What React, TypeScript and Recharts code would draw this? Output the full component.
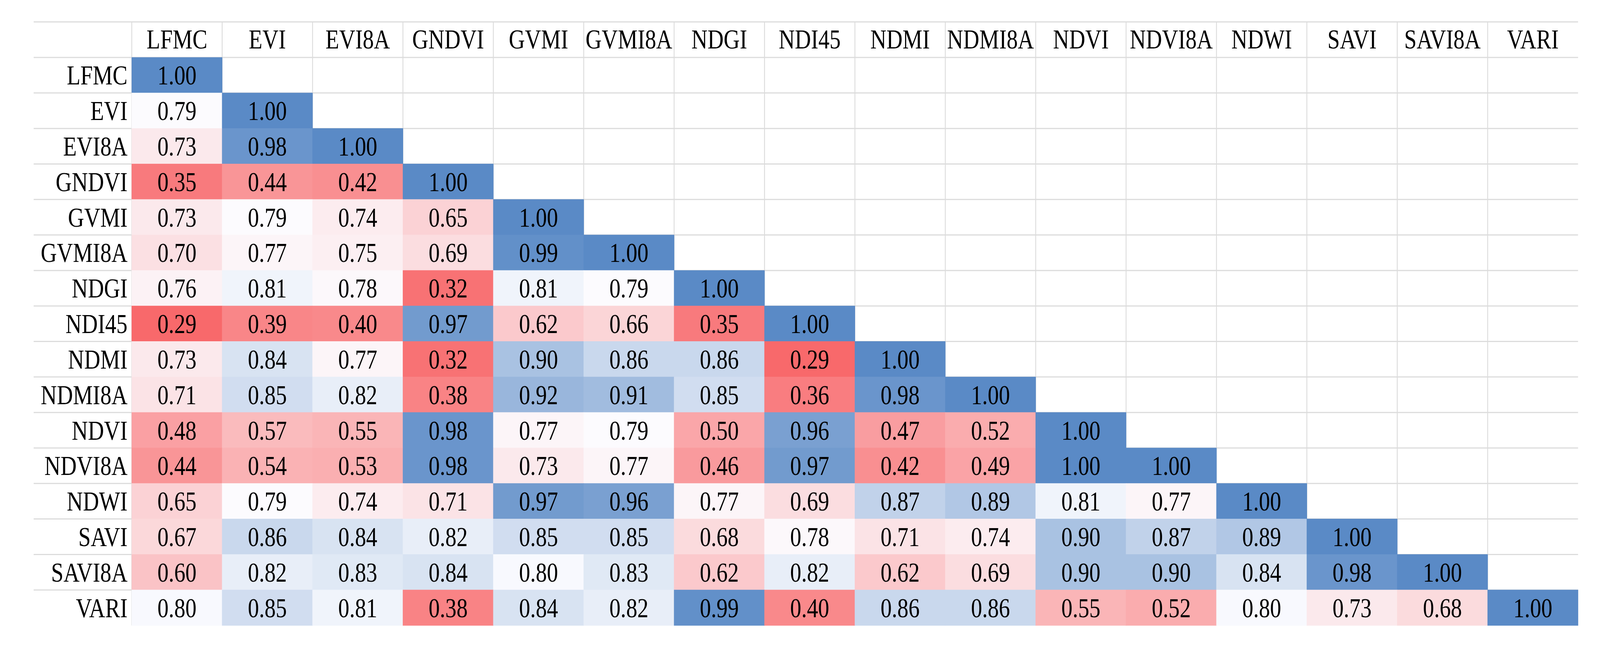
import React from 'react';
import { ScatterChart, Scatter, XAxis, YAxis, CartesianGrid } from 'recharts';

// ---------- data ----------
const COLUMNS = ['LFMC', 'EVI', 'EVI8A', 'GNDVI', 'GVMI', 'GVMI8A', 'NDGI', 'NDI45', 'NDMI', 'NDMI8A', 'NDVI', 'NDVI8A', 'NDWI', 'SAVI', 'SAVI8A', 'VARI'];

const ROW_LFMC = [1.0];
const ROW_EVI = [0.79, 1.0];
const ROW_EVI8A = [0.73, 0.98, 1.0];
const ROW_GNDVI = [0.35, 0.44, 0.42, 1.0];
const ROW_GVMI = [0.73, 0.79, 0.74, 0.65, 1.0];
const ROW_GVMI8A = [0.7, 0.77, 0.75, 0.69, 0.99, 1.0];
const ROW_NDGI = [0.76, 0.81, 0.78, 0.32, 0.81, 0.79, 1.0];
const ROW_NDI45 = [0.29, 0.39, 0.4, 0.97, 0.62, 0.66, 0.35, 1.0];
const ROW_NDMI = [0.73, 0.84, 0.77, 0.32, 0.9, 0.86, 0.86, 0.29, 1.0];
const ROW_NDMI8A = [0.71, 0.85, 0.82, 0.38, 0.92, 0.91, 0.85, 0.36, 0.98, 1.0];
const ROW_NDVI = [0.48, 0.57, 0.55, 0.98, 0.77, 0.79, 0.5, 0.96, 0.47, 0.52, 1.0];
const ROW_NDVI8A = [0.44, 0.54, 0.53, 0.98, 0.73, 0.77, 0.46, 0.97, 0.42, 0.49, 1.0, 1.0];
const ROW_NDWI = [0.65, 0.79, 0.74, 0.71, 0.97, 0.96, 0.77, 0.69, 0.87, 0.89, 0.81, 0.77, 1.0];
const ROW_SAVI = [0.67, 0.86, 0.84, 0.82, 0.85, 0.85, 0.68, 0.78, 0.71, 0.74, 0.9, 0.87, 0.89, 1.0];
const ROW_SAVI8A = [0.6, 0.82, 0.83, 0.84, 0.8, 0.83, 0.62, 0.82, 0.62, 0.69, 0.9, 0.9, 0.84, 0.98, 1.0];
const ROW_VARI = [0.8, 0.85, 0.81, 0.38, 0.84, 0.82, 0.99, 0.4, 0.86, 0.86, 0.55, 0.52, 0.8, 0.73, 0.68, 1.0];

const ROWS = [ROW_LFMC, ROW_EVI, ROW_EVI8A, ROW_GNDVI, ROW_GVMI, ROW_GVMI8A, ROW_NDGI, ROW_NDI45, ROW_NDMI, ROW_NDMI8A, ROW_NDVI, ROW_NDVI8A, ROW_NDWI, ROW_SAVI, ROW_SAVI8A, ROW_VARI];

// ---------- layout (reference pixels, page origin) ----------
const REF_W = 4517;
const REF_H = 1650;
const TABLE_LEFT = 95;
const HEADER_TOP = 56;
const HEADER_H = 91;
const LABEL_W = 277;
const TABLE_RIGHT = 4455;
const TABLE_BOTTOM = 1600;
const MARGIN = { top: HEADER_TOP, left: TABLE_LEFT, right: REF_W - TABLE_RIGHT, bottom: REF_H - TABLE_BOTTOM };
const PLOT_LEFT = TABLE_LEFT + LABEL_W;
const PLOT_TOP = HEADER_TOP + HEADER_H;
const PLOT_W = TABLE_RIGHT - PLOT_LEFT;
const PLOT_H = TABLE_BOTTOM - PLOT_TOP;
const N = COLUMNS.length;
const CELL_W = PLOT_W / N;
const CELL_H = PLOT_H / N;

const FONT = "'Liberation Serif', 'Times New Roman', serif";
const FONT_SIZE = 63;
const SCALE_Y = 1.1;
const GRID_COLOR = '#dcdcdc';

// ---------- colour scale (Excel 3-colour: red / white / blue, midpoint = 50th percentile) ----------
const points = ROWS.flatMap((row, r) => row.map((v, c) => ({ x: c + 0.5, y: r + 0.5, v })));
const allVals = points.map((p) => p.v).sort((a, b) => a - b);
const vMin = allVals[0];
const vMax = allVals[allVals.length - 1];
const rank = 0.5 * (allVals.length - 1);
const lo = Math.floor(rank);
const vMid = allVals[lo] + (allVals[Math.min(lo + 1, allVals.length - 1)] - allVals[lo]) * (rank - lo);

const RED = [248, 105, 107];
const WHITE = [252, 252, 255];
const BLUE = [90, 138, 198];

function mix(a: number[], b: number[], t: number) {
  const c = a.map((av, i) => Math.round(av + (b[i] - av) * t));
  return `rgb(${c[0]},${c[1]},${c[2]})`;
}
function colorFor(v: number) {
  if (v <= vMid) {
    const t = vMid === vMin ? 1 : (v - vMin) / (vMid - vMin);
    return mix(RED, WHITE, Math.max(0, Math.min(1, t)));
  }
  const t = (v - vMid) / (vMax - vMid);
  return mix(WHITE, BLUE, Math.max(0, Math.min(1, t)));
}

function ScaledText({ x, y, anchor, children }: { x: number; y: number; anchor: string; children: React.ReactNode }) {
  return (
    <text
      transform={`translate(${x},${y}) scale(1,${SCALE_Y})`}
      textAnchor={anchor as any}
      fontFamily={FONT}
      fontSize={FONT_SIZE}
      fill="#000"
    >
      {children}
    </text>
  );
}

const CellShape = (props: any) => {
  const { cx, cy, payload } = props;
  if (cx == null || cy == null) return null;
  return (
    <g>
      <rect x={cx - CELL_W / 2 - 0.5} y={cy - CELL_H / 2 - 0.5} width={CELL_W + 1} height={CELL_H + 1} fill={colorFor(payload.v)} />
      <ScaledText x={cx} y={cy + 24} anchor="middle">
        {payload.v.toFixed(2)}
      </ScaledText>
    </g>
  );
};

const XTick = (props: any) => {
  const { x, payload } = props;
  const name = COLUMNS[Math.round(payload.value - 0.5)];
  return (
    <ScaledText x={x} y={HEADER_TOP + HEADER_H / 2 + 22.5} anchor="middle">
      {name}
    </ScaledText>
  );
};

const YTick = (props: any) => {
  const { y, payload } = props;
  const name = COLUMNS[Math.round(payload.value - 0.5)];
  return (
    <ScaledText x={PLOT_LEFT - 12} y={y + 24} anchor="end">
      {name}
    </ScaledText>
  );
};

const TICKS = COLUMNS.map((_, i) => i + 0.5);
const H_POINTS = [HEADER_TOP, ...COLUMNS.map((_, i) => PLOT_TOP + i * CELL_H)];
const V_POINTS = COLUMNS.map((_, i) => PLOT_LEFT + i * CELL_W);

export default function App() {
  const vw = typeof window !== 'undefined' ? window.innerWidth : REF_W;
  const vh = typeof window !== 'undefined' ? window.innerHeight : REF_H;
  const sx = vw / REF_W || 1;
  const sy = vh / REF_H || 1;
  return (
    <div style={{ position: 'fixed', left: 0, top: 0, width: '100vw', height: '100vh', overflow: 'hidden', background: '#fff' }}>
      <div style={{ position: 'absolute', left: 0, top: 0, width: REF_W, height: REF_H, transform: `scale(${sx}, ${sy})`, transformOrigin: '0 0' }}>
        <ScatterChart width={REF_W} height={REF_H} margin={MARGIN}>
          <CartesianGrid
            x={TABLE_LEFT}
            y={HEADER_TOP}
            width={TABLE_RIGHT - TABLE_LEFT}
            height={TABLE_BOTTOM - HEADER_TOP}
            horizontal={true}
            vertical={false}
            horizontalPoints={H_POINTS}
            stroke={GRID_COLOR}
            strokeWidth={3}
            strokeDasharray=""
          />
          <CartesianGrid
            x={TABLE_LEFT}
            y={HEADER_TOP}
            width={TABLE_RIGHT - TABLE_LEFT}
            height={TABLE_BOTTOM - HEADER_TOP}
            horizontal={false}
            vertical={true}
            verticalPoints={V_POINTS}
            stroke={GRID_COLOR}
            strokeWidth={2.5}
            strokeDasharray=""
          />
          <XAxis
            type="number"
            dataKey="x"
            orientation="top"
            domain={[0, N]}
            ticks={TICKS}
            interval={0}
            height={HEADER_H}
            axisLine={false}
            tickLine={false}
            tick={<XTick />}
          />
          <YAxis
            type="number"
            dataKey="y"
            domain={[0, N]}
            reversed
            ticks={TICKS}
            interval={0}
            width={LABEL_W}
            axisLine={false}
            tickLine={false}
            tick={<YTick />}
          />
          <Scatter data={points} shape={<CellShape />} isAnimationActive={false} />
        </ScatterChart>
      </div>
    </div>
  );
}
